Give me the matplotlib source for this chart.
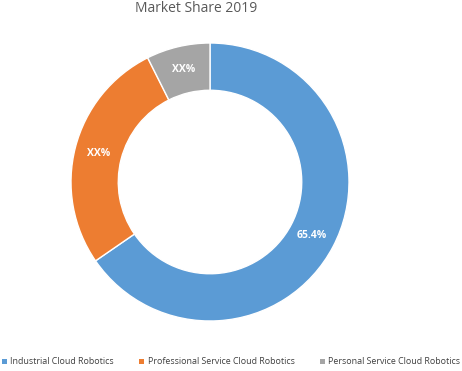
import numpy as np
import matplotlib.pyplot as plt
from matplotlib.patches import Patch

# data
labels = ['Industrial Cloud Robotics', 'Professional Service Cloud Robotics',
          'Personal Service Cloud Robotics']
shares = [65.4, 27.2, 7.4]
texts = ['65.4%', 'XX%', 'XX%']
colors = ['#5B9BD5', '#ED7D31', '#A5A5A5']

plt.rcParams['font.family'] = ['Open Sans', 'DejaVu Sans']

fig = plt.figure(figsize=(4.62, 3.71), dpi=100)
ax = fig.add_axes([71/462, 50/371, 278/462, 278/371])

wedges, _ = ax.pie(shares, colors=colors, startangle=90, counterclock=False,
                   radius=1.0, wedgeprops=dict(width=0.34, edgecolor='white', linewidth=1))
for w, t in zip(wedges, texts):
    ang = np.deg2rad((w.theta1 + w.theta2) / 2)
    r = 0.83
    ax.text(r*np.cos(ang), r*np.sin(ang), t, ha='center', va='center',
            color='white', fontsize=7.5, fontweight='bold')
ax.set_xlim(-1, 1)
ax.set_ylim(-1, 1)
ax.set_aspect('equal')
ax.axis('off')

fig.text(196/462, 1 - 9/371, 'Market Share 2019', ha='center', va='center',
         fontsize=10, color='#595959')

handles = [Patch(facecolor=c, edgecolor='none') for c in colors]
fig.legend(handles, labels, loc='center', bbox_to_anchor=(0.5, 1 - 362/371), ncol=3,
           frameon=False, fontsize=6.4, handlelength=0.6, handleheight=0.6,
           handletextpad=0.4, columnspacing=2.8, labelcolor='#404040',
           borderaxespad=0, borderpad=0)

fig.savefig('out.png', dpi=100)
